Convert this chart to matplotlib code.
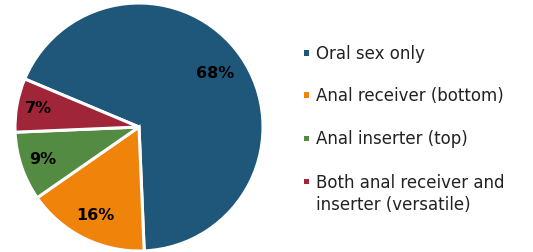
import numpy as np
import matplotlib
matplotlib.use("Agg")
import matplotlib.pyplot as plt
from matplotlib.patches import Rectangle

labels = ["Oral sex only", "Anal receiver (bottom)", "Anal inserter (top)",
          "Both anal receiver and\ninserter (versatile)"]
values = [68, 16, 9, 7]
colors = ["#1F577A", "#F0830A", "#548B42", "#A12538"]
label_dist = [0.75, 0.8, 0.82, 0.82]

W, H = 533, 252
fig = plt.figure(figsize=(W / 100, H / 100), dpi=100)

cx, cy, r = 139, 127, 124
ax = fig.add_axes([(cx - r) / W, (H - cy - r) / H, 2 * r / W, 2 * r / H])
wedges, _ = ax.pie(values, colors=colors, startangle=157.2, counterclock=False,
                   wedgeprops=dict(edgecolor="white", linewidth=2.2))
ax.set_xlim(-1, 1)
ax.set_ylim(-1, 1)
ax.set_aspect("equal")
ax.axis("off")

for w, v, d in zip(wedges, values, label_dist):
    ang = np.deg2rad((w.theta1 + w.theta2) / 2)
    ax.text(d * np.cos(ang), d * np.sin(ang), f"{v}%", ha="center", va="center",
            fontsize=11.5, fontweight="bold", color="black")

# legend
rows = [53, 95, 138.5, 181.5]
for lab, c, y in zip(labels, colors, rows):
    fig.patches.append(Rectangle((304 / W, 1 - (y + 2.5) / H), 5 / W, 5 / H,
                                 transform=fig.transFigure, facecolor=c,
                                 edgecolor="none"))
    fig.text(316 / W, 1 - (y - 8) / H, lab, ha="left", va="top", fontsize=12,
             color="#222222", linespacing=1.3)

fig.savefig("out.png", dpi=100)
